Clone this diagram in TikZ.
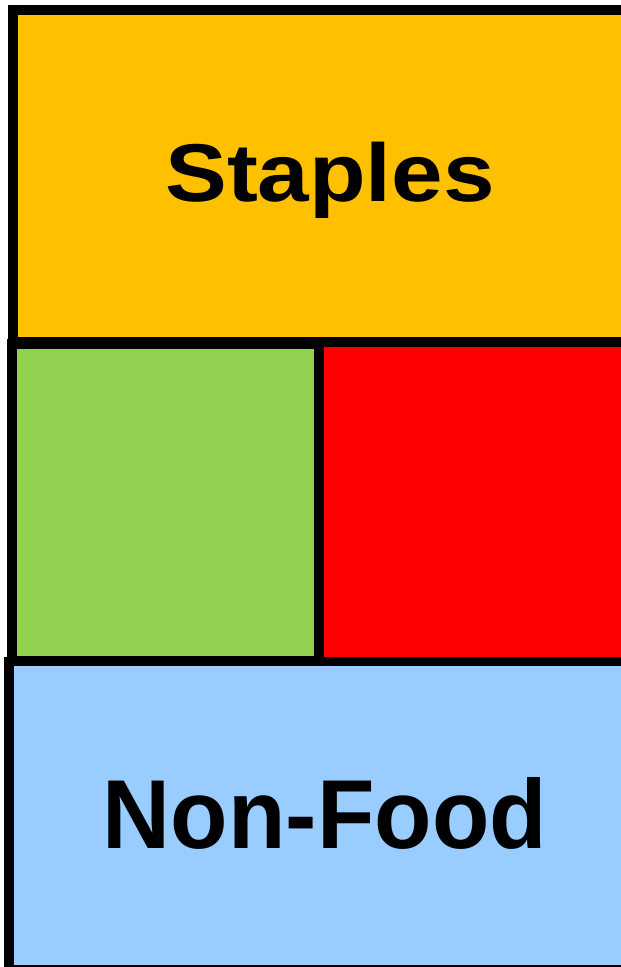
\documentclass[tikz,border=0pt]{standalone}
\usepackage{fontspec}
\setmainfont{Liberation Sans}
\definecolor{staplesc}{HTML}{FFC000}
\definecolor{greenc}{HTML}{92D050}
\definecolor{redc}{HTML}{FF0000}
\definecolor{bluec}{HTML}{99CCFF}
\tikzset{
  panel/.style={draw=black, line width=9.5pt, line join=miter},
  bigtext/.style={font=\bfseries\fontsize{98}{110}\selectfont, inner sep=0pt, anchor=base}
}
\begin{document}
\begin{tikzpicture}[x=1pt,y=-1pt]
\useasboundingbox (0,0) rectangle (621,967);
\clip (0,0) rectangle (621,967);
\filldraw[panel, fill=staplesc] (13,10) rectangle (640,342);
\filldraw[panel, fill=greenc] (12,344) rectangle (319,661);
\filldraw[panel, fill=redc] (319,342) rectangle (640,662);
\filldraw[panel, fill=bluec] (9,661.5) rectangle (640,970);
\node[bigtext] (staples) at (330,201) {\scalebox{1.13}[1]{\fontsize{82}{95}\selectfont Staples}};
\node[bigtext] (nonfood) at (325,848) {\scalebox{0.96}[1]{Non-Food}};
\end{tikzpicture}
\end{document}
